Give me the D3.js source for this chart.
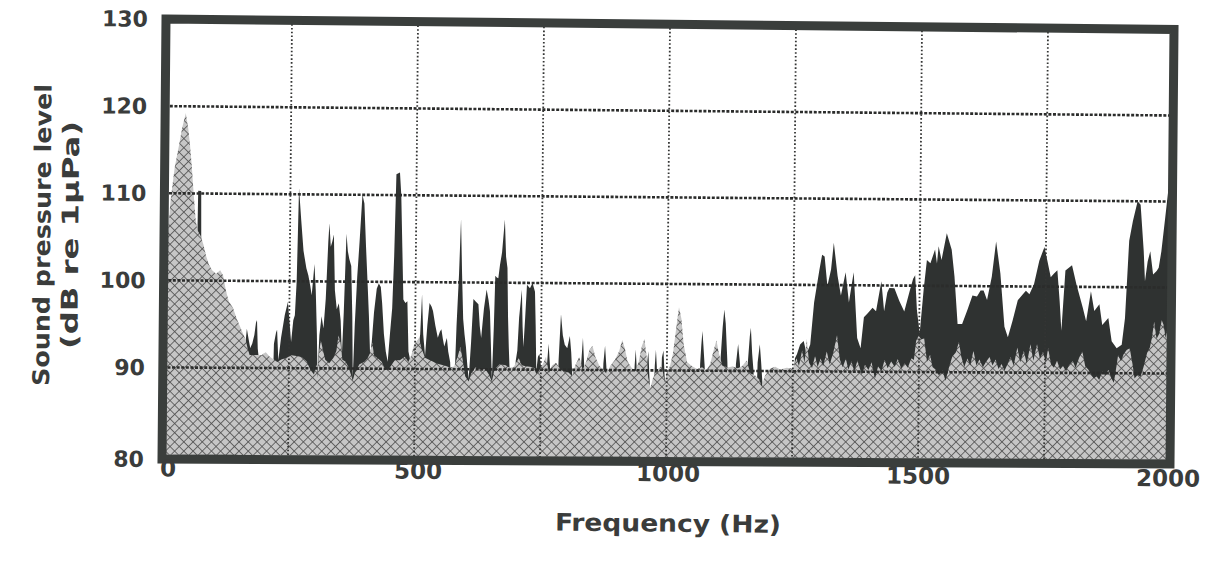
<!DOCTYPE html>
<html>
<head>
<meta charset="utf-8">
<script src="https://cdn.jsdelivr.net/npm/d3@7"></script>
<style>
  body { margin: 0; background: #fff; }
  svg { display: block; }
  text { font-family: "DejaVu Sans", "Liberation Sans", Arial, sans-serif; font-weight: bold; fill: #3a3c3b; }
</style>
</head>
<body>
<svg id="chart"></svg>
<script>
const svg = d3.select("#chart");

svg
  .attr('width', 1211)
  .attr('height', 571)

// tick values
const freqTicks = [0, 500, 1000, 1500, 2000];
const levelTicks = [80, 90, 100, 110, 120, 130];
const gridFreqs = [250, 500, 750, 1000, 1250, 1500, 1750];
const gridLevels = [90, 100, 110, 120];

// dark series: [Hz, dB] (86 = hidden under the grey)
const vessel = [
  [0, 86], [64, 86], [66, 104], [67, 110.3], [73, 110.3], [74, 104], [76, 86],
  [160, 86], [163, 92.5], [166, 94.5], [170, 93.2], [173, 92.3], [177, 92.8], [181, 93.8],
  [184, 95.2], [186, 95.5], [188, 92.2], [190, 91.2], [193, 86],
  [218, 86], [220, 92.8], [224, 94.1], [226, 94.4], [229, 90.9], [234, 93.5], [241, 96.1],
  [247, 97.6], [251, 95], [254, 93], [258, 95.5], [261, 96.1], [264, 100], [267, 110.7],
  [272, 107], [277, 103.5], [283, 101.5], [287, 100.7], [291, 99.5], [294, 98.4], [297, 100.5],
  [299, 102], [302, 99], [305, 94], [307, 89.2], [310, 93.8], [314, 96], [318, 94.6], [322, 98],
  [326, 104.5], [328, 106.7], [331, 104], [334, 104.6], [337, 105.4], [340, 99], [344, 96.8],
  [348, 97.5], [352, 95.5], [355, 91.5], [358, 96.5], [362, 105.5], [365, 103.5], [368, 102.6],
  [372, 101.8], [375, 96], [377, 88.9], [380, 95], [384, 100.5], [388, 104.5], [393, 110],
  [397, 109], [401, 104], [405, 99.5], [408, 96], [411, 91.5], [414, 93], [418, 96.5],
  [423, 99.2], [427, 99.8], [431, 99.4], [434, 97.5], [438, 94], [442, 92], [446, 90.8],
  [450, 94], [454, 97], [457, 103], [460, 112.4], [467, 112.6], [470, 110], [473, 104],
  [476, 98], [480, 97.6], [484, 97.8], [487, 92], [490, 91.2], [493, 86],
  [503, 86], [506, 92], [510, 94], [513, 98.6], [516, 94], [520, 91.5], [524, 95], [528, 97.6],
  [532, 97.2], [535, 96.7], [540, 95], [545, 93.6], [549, 94.3], [552, 94.6], [555, 93.5],
  [558, 92.6], [561, 93.2], [563, 93.6], [566, 92], [570, 90.8], [573, 86],
  [577, 86], [580, 91], [582, 95.1], [586, 101], [589, 107.3], [592, 101], [595, 95.8],
  [598, 94], [601, 92.6], [604, 90.5], [607, 88.9], [611, 93], [615, 98.1], [620, 97.8],
  [625, 97.5], [628, 95], [631, 93.6], [636, 97], [641, 99.2], [645, 98], [648, 96.7],
  [651, 92], [653, 88.9], [656, 95], [658, 100.8], [661, 100.6], [664, 100.5], [667, 102],
  [671, 103.5], [676, 107.3], [679, 103], [682, 101.7], [684, 96], [686, 92.6], [688, 90],
  [690, 86], [697, 86], [700, 91], [703, 92.2], [706, 96], [711, 99.2], [713, 95], [715, 92.6],
  [718, 96], [721, 99.8], [727, 99.4], [732, 100], [737, 99], [739, 95], [741, 89.8],
  [744, 91.5], [747, 91.8], [750, 90.5], [753, 86],
  [760, 86], [762, 90.5], [765, 93], [768, 90.5], [770, 86],
  [783, 86], [785, 91], [789, 96.4], [793, 94], [797, 92.9], [802, 92.5], [807, 93.9],
  [810, 92], [812, 89.9], [814, 86],
  [828, 86], [830, 90.8], [833, 93.7], [836, 90.5], [838, 86],
  [872, 86], [874, 90.8], [877, 92.8], [880, 90.4], [882, 86],
  [934, 86], [936, 90.5], [938, 92.4], [940, 90.4], [942, 86],
  [959, 86], [961, 91], [963, 92.2], [966, 88.8], [968, 86],
  [974, 86], [976, 90.5], [978, 92.4], [980, 90.5], [982, 86],
  [988, 86], [990, 91.5], [993, 92.3], [996, 89], [998, 86],
  [1064, 86], [1066, 90.8], [1068, 93], [1070, 94.6], [1072, 93], [1075, 90.5], [1077, 86],
  [1104, 86], [1106, 91], [1110, 95], [1113, 97.1], [1116, 95.5], [1120, 91], [1122, 86],
  [1135, 86], [1137, 90.8], [1141, 93.1], [1145, 90.8], [1147, 86],
  [1158, 86], [1160, 90.5], [1164, 94], [1166, 95], [1169, 92], [1172, 90], [1174, 86],
  [1178, 86], [1180, 91], [1184, 93.1], [1187, 91], [1190, 88.5], [1192, 86],
  [1248, 86], [1254, 91.5], [1258, 92], [1264, 93.1], [1271, 93.5], [1277, 92], [1284, 93.1],
  [1291, 98], [1301, 101.8], [1306, 103.5], [1311, 103.3], [1317, 99.9], [1324, 101.8],
  [1329, 104.9], [1337, 101.1], [1344, 98.8], [1353, 101.5], [1360, 98], [1365, 100],
  [1369, 101.5], [1377, 93.9], [1384, 92.7], [1390, 96.3], [1398, 96.8], [1407, 97.4],
  [1414, 97], [1424, 100.5], [1430, 97], [1436, 99.2], [1440, 99.7], [1450, 99.7],
  [1460, 98.2], [1470, 97], [1480, 99.3], [1487, 100.8], [1491, 101.2], [1495, 97.2],
  [1501, 94.5], [1508, 99.5], [1514, 103], [1521, 102.6], [1530, 104.2], [1534, 102.6],
  [1537, 104.6], [1543, 103], [1553, 106.1], [1563, 104.2], [1569, 101.1], [1576, 95.6],
  [1585, 95.6], [1595, 97.2], [1605, 98.9], [1614, 98.8], [1621, 99.5], [1627, 99.5],
  [1634, 98.4], [1643, 101.1], [1651, 105.2], [1660, 101.5], [1669, 95.3], [1676, 94.1],
  [1685, 96], [1695, 98.4], [1705, 99.1], [1711, 99.5], [1718, 99.1], [1727, 100.3],
  [1737, 103], [1747, 104.6], [1753, 103], [1760, 101.1], [1766, 101.5], [1773, 101.9],
  [1778, 98.4], [1782, 94.9], [1789, 101.9], [1802, 102.5], [1811, 100.3], [1824, 97.6],
  [1831, 96], [1840, 99.5], [1847, 97.2], [1857, 98], [1863, 95.6], [1875, 96.4],
  [1882, 93.7], [1892, 92.9], [1902, 93.3], [1908, 96.4], [1915, 105.4], [1922, 107.7],
  [1931, 110], [1937, 109.6], [1944, 104.2], [1947, 100.7], [1952, 103], [1957, 104.2],
  [1963, 101.5], [1970, 101.9], [1974, 102.3], [1979, 104.2], [1986, 108.1], [1992, 111.5],
  [2000, 111]
];

// hatched grey series: [Hz, dB], drawn over the dark one
const ambient = [
  [0, 98], [6, 104], [12, 109], [20, 113], [28, 115.5], [34, 117.5], [41, 119.2], [46, 117.5],
  [50, 115.5], [54, 113], [58, 110], [62, 107.2], [66, 105.8], [72, 105.2], [78, 104.2],
  [84, 102.8], [90, 101.8], [96, 101.2], [104, 100.8], [112, 101.2], [118, 100.6], [124, 98.8],
  [130, 97.6], [138, 96.9], [146, 95.6], [152, 94.8], [158, 94], [164, 93.2], [168, 92.2],
  [172, 91.5], [180, 91.5], [188, 91.5], [196, 91.5], [204, 91.8], [212, 91.3], [220, 91],
  [227, 90.7], [235, 91], [245, 91.2], [255, 91.5], [265, 91.4], [275, 91.3], [285, 90.8],
  [293, 89.8], [300, 89.3], [305, 90.5], [307, 88.9], [309, 91.5], [313, 93.2], [317, 92.2],
  [322, 91], [330, 90.6], [338, 91.2], [344, 92], [348, 93.8], [352, 93], [356, 91],
  [362, 90.8], [368, 90.2], [374, 89.2], [377, 88.6], [381, 89.5], [390, 90.5], [400, 90.8],
  [406, 91.2], [411, 91.8], [415, 93], [419, 91.5], [426, 91.2], [434, 90.8], [440, 90.1],
  [446, 89.8], [452, 90.3], [460, 91], [470, 91], [480, 91.4], [487, 90.8], [493, 91.6],
  [498, 92.8], [503, 93.2], [508, 93.6], [512, 92.5], [520, 91.3], [530, 91], [545, 90.6],
  [560, 90.4], [570, 90.2], [578, 90.3], [585, 91.5], [590, 92.6], [595, 91], [600, 89.2],
  [607, 88.6], [612, 89.5], [620, 90.2], [630, 90], [640, 90], [647, 89.4], [653, 88.6],
  [658, 90], [668, 90.6], [680, 90.5], [688, 90.2], [696, 90.3], [706, 91.3], [712, 90.5],
  [720, 90.4], [732, 90.3], [737, 90.2], [741, 89.5], [747, 89.9], [755, 90.8], [760, 91.5],
  [766, 89.6], [772, 90.5], [780, 90.8], [790, 90], [797, 89.8], [805, 89.7], [812, 89.3],
  [818, 90.5], [826, 91.5], [833, 90], [840, 91], [846, 92.3], [852, 92.8], [858, 91.5],
  [866, 90.5], [873, 90.1], [880, 89.6], [888, 90.5], [897, 91.2], [905, 92.2], [911, 93.5],
  [916, 92.6], [922, 91], [930, 90.3], [938, 89.9], [944, 91], [950, 92.8], [955, 93.6],
  [960, 91.5], [963, 89.2], [968, 88], [972, 89], [978, 89.8], [985, 90.3], [990, 90.5],
  [996, 88.6], [1000, 89.8], [1006, 90.5], [1012, 92], [1018, 95], [1023, 97.3], [1028, 96],
  [1033, 93], [1040, 91], [1050, 90.5], [1060, 90.2], [1070, 90.4], [1078, 90], [1086, 90.8],
  [1093, 92.5], [1098, 93.5], [1103, 92], [1110, 90.6], [1120, 90.4], [1130, 90.5],
  [1141, 90.3], [1150, 90.6], [1158, 91.2], [1166, 89.7], [1175, 89.5], [1184, 89],
  [1188, 88.2], [1195, 89.5], [1205, 90.3], [1215, 90.5], [1225, 90.2], [1238, 90.4],
  [1250, 90.3], [1257, 91.5], [1262, 90.6], [1268, 92.4], [1273, 91], [1277, 93.8],
  [1282, 91], [1288, 90.4], [1294, 91.8], [1299, 90.5], [1305, 91.5], [1310, 90.6],
  [1317, 92.3], [1323, 90.8], [1330, 92.2], [1337, 94.2], [1343, 91.4], [1349, 90.5],
  [1355, 91.5], [1360, 90.2], [1366, 91.2], [1372, 90], [1378, 91.3], [1387, 89.6],
  [1393, 90.8], [1400, 90.2], [1406, 91.1], [1413, 89.2], [1419, 90.6], [1426, 90.1],
  [1432, 91.4], [1438, 90.4], [1445, 91.2], [1452, 90.6], [1458, 91.5], [1465, 90.4],
  [1472, 91], [1478, 90.5], [1485, 91.6], [1490, 91.4], [1494, 93.6], [1499, 94.2],
  [1504, 93.8], [1510, 93.9], [1516, 91.2], [1522, 92], [1527, 90.6], [1533, 90.3],
  [1540, 89.6], [1547, 90.2], [1553, 89], [1560, 90.6], [1566, 91.8], [1573, 92.3],
  [1579, 93.5], [1584, 91.8], [1590, 90.6], [1596, 91.6], [1602, 90.8], [1608, 92.5],
  [1614, 90.8], [1620, 91.5], [1627, 90.6], [1633, 91.2], [1640, 91.8], [1646, 90.8],
  [1652, 91.5], [1658, 90.4], [1664, 91], [1670, 90.2], [1676, 91], [1682, 91.8],
  [1688, 90.8], [1695, 92.9], [1701, 91.2], [1708, 92.5], [1714, 91], [1721, 93.3],
  [1727, 91.4], [1734, 93.3], [1740, 91.6], [1746, 92.4], [1752, 91.2], [1756, 92.9],
  [1762, 91], [1768, 90.6], [1774, 91.4], [1780, 90.4], [1786, 90.8], [1792, 90.2],
  [1798, 90.9], [1805, 91.4], [1811, 90.6], [1818, 91.8], [1824, 92.5], [1830, 90.8],
  [1836, 90.4], [1842, 89.8], [1847, 89.4], [1853, 89.6], [1858, 89.2], [1864, 90.2],
  [1870, 89.7], [1876, 90.4], [1882, 89.4], [1887, 88.9], [1892, 90.8], [1895, 92.1],
  [1901, 91.4], [1906, 92.2], [1912, 92.7], [1918, 92.9], [1924, 91], [1928, 89.4],
  [1934, 89.8], [1940, 89.6], [1946, 90.8], [1953, 92.5], [1958, 93], [1962, 94.2],
  [1966, 96], [1971, 94], [1976, 94.6], [1981, 96.2], [1985, 95.6], [1989, 94.1],
  [1994, 95.8], [1997, 96.2], [2000, 95]
];

// frame of the plot, before the scan's skew
const boxLeft = 166, boxRight = 1174, boxTop = 19, boxBottom = 459;

const x = d3.scaleLinear().domain([0, 2000]).range([boxLeft, boxRight]);
const y = d3.scaleLinear().domain([80, 130]).range([454.5, boxTop]);
const labelX = d3.scaleLinear().domain([0, 2000]).range([168, 1168]);

// the scanned page is slightly skewed: right side sits lower, more at the top
const dropTop = 10.5, dropBottom = 5, lean = 4 / 440;
function wx(px, py) {
  return px - (py - boxTop) * lean;
}
function wy(px, py) {
  const t = (py - boxTop) / (boxBottom - boxTop);
  return py + (px - boxLeft) / (boxRight - boxLeft) * (dropTop + (dropBottom - dropTop) * t);
}
const seg = (x1, y1, x2, y2) =>
  `M${wx(x1, y1)},${wy(x1, y1)}L${wx(x2, y2)},${wy(x2, y2)}`;

const defs = svg.append('defs');

// cross hatch for the grey area
const hatch = defs.append('pattern')
  .attr('id', 'hatch')
  .attr('patternUnits', 'userSpaceOnUse')
  .attr('width', 6.5)
  .attr('height', 6.5)
  .attr('patternTransform', 'rotate(45)');
hatch.append('rect')
  .attr('width', 6.5)
  .attr('height', 6.5)
  .attr('fill', '#c6c6c6');
hatch.append('line')
  .attr('x1', 0).attr('y1', 0).attr('x2', 0).attr('y2', 6.5)
  .attr('stroke', '#4f4f4f')
  .attr('stroke-width', 1.6);
hatch.append('line')
  .attr('x1', 0).attr('y1', 0).attr('x2', 6.5).attr('y2', 0)
  .attr('stroke', '#4f4f4f')
  .attr('stroke-width', 1.6);

const g = svg.append('g');

const area = d3.area()
  .x0(d => wx(x(d[0]), y(80)))
  .y0(d => wy(x(d[0]), y(80)))
  .x1(d => wx(x(d[0]), y(d[1])))
  .y1(d => wy(x(d[0]), y(d[1])));

g.append('path')
  .datum(vessel)
  .attr('d', area)
  .attr('fill', '#2f3231');

g.append('path')
  .datum(ambient)
  .attr('d', area)
  .attr('fill', 'url(#hatch)');

// dotted grid on top
g.selectAll('.hgrid')
  .data(gridLevels)
  .join('path')
  .attr('class', 'hgrid')
  .attr('d', d => seg(boxLeft, y(d), boxRight, y(d)))
  .attr('fill', 'none')
  .attr('stroke', '#2b2c2b')
  .attr('stroke-width', 2.6)
  .attr('stroke-dasharray', '3,1.6');

g.selectAll('.vgrid')
  .data(gridFreqs)
  .join('path')
  .attr('class', 'vgrid')
  .attr('d', d => seg(x(d), boxTop, x(d), boxBottom))
  .attr('fill', 'none')
  .attr('stroke', '#343534')
  .attr('stroke-width', 1.8)
  .attr('stroke-dasharray', '1.6,2.2');

// frame
const corners = [[boxLeft, boxTop], [boxRight, boxTop], [boxRight, boxBottom], [boxLeft, boxBottom]];
g.append('path')
  .attr('d', 'M' + corners.map(c => `${wx(c[0], c[1])},${wy(c[0], c[1])}`).join('L') + 'Z')
  .attr('fill', 'none')
  .attr('stroke', '#3a3e3c')
  .attr('stroke-width', 9)
  .attr('stroke-linejoin', 'miter');

// tick labels
g.selectAll('.ytick')
  .data(levelTicks)
  .join('text')
  .attr('class', 'ytick')
  .attr('transform', d => {
    const py = d === 80 ? boxBottom : y(d);
    return `translate(${wx(148, py)},${wy(148, py)}) rotate(0.5)`;
  })
  .attr('dy', '0.36em')
  .attr('text-anchor', 'end')
  .style('font-size', '22px')
  .text(d => d);

g.selectAll('.xtick')
  .data(freqTicks)
  .join('text')
  .attr('class', 'xtick')
  .attr('transform', d => `translate(${labelX(d)},${468 + (labelX(d) - 168) * 0.01}) rotate(0.57)`)
  .attr('dy', '0.36em')
  .attr('text-anchor', 'middle')
  .style('font-size', '23px')
  .text(d => d);

// axis titles
g.append('text')
  .attr('transform', 'translate(668, 523) rotate(0.57)')
  .attr('dy', '0.36em')
  .attr('text-anchor', 'middle')
  .attr('textLength', 226)
  .attr('lengthAdjust', 'spacingAndGlyphs')
  .style('font-size', '24px')
  .text('Frequency (Hz)');

g.append('text')
  .attr('transform', 'translate(42, 235) rotate(-89.5)')
  .attr('dy', '0.36em')
  .attr('text-anchor', 'middle')
  .attr('textLength', 302)
  .attr('lengthAdjust', 'spacingAndGlyphs')
  .style('font-size', '23px')
  .text('Sound pressure level');

g.append('text')
  .attr('transform', 'translate(70, 235) rotate(-89.5)')
  .attr('dy', '0.36em')
  .attr('text-anchor', 'middle')
  .attr('textLength', 228)
  .attr('lengthAdjust', 'spacingAndGlyphs')
  .style('font-size', '23px')
  .text('(dB re 1µPa)');
</script>
</body>
</html>
